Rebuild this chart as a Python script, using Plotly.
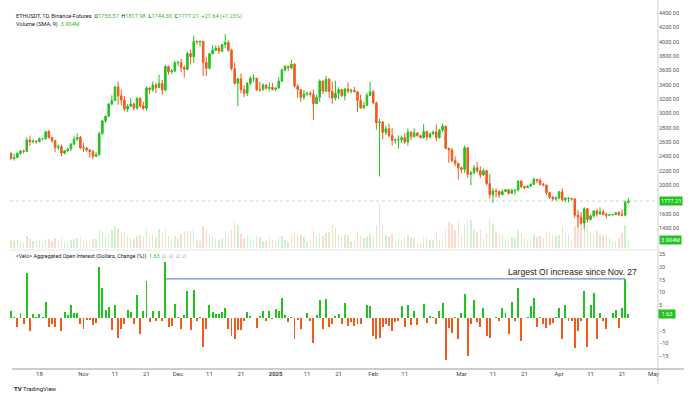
import pandas as pd
import plotly.graph_objects as go

# ---------------- data ----------------
dates = pd.date_range("2024-10-09", periods=197, freq="D")

opens = [2440,2370,2385,2440,2475,2470,2630,2605,2610,2605,
 2645,2645,2745,2665,2620,2525,2535,2445,2480,2505,
 2570,2640,2665,2520,2515,2490,2465,2400,2425,2720,
 2895,2960,3130,3180,3370,3245,3185,3060,3100,3130,
 3075,3210,3105,3070,3355,3330,3395,3360,3415,3325,
 3655,3580,3590,3705,3710,3640,3615,3835,3790,4000,
 3995,4005,3710,3630,3830,3880,3910,3870,3960,3990,
 3880,3625,3420,3480,3330,3280,3420,3490,3490,3330,
 3330,3395,3350,3360,3335,3355,3450,3605,3655,3635,
 3685,3380,3330,3225,3270,3280,3265,3135,3225,3450,
 3310,3475,3305,3215,3280,3330,3245,3340,3310,3320,
 3300,3180,3080,3110,3250,3300,3145,2870,2880,2735,
 2785,2690,2625,2630,2630,2660,2600,2740,2675,2725,
 2690,2660,2745,2670,2715,2740,2660,2765,2820,2510,
 2490,2340,2305,2240,2220,2520,2150,2170,2240,2200,
 2140,2200,2020,1865,1920,1910,1865,1910,1935,1885,
 1925,1930,2055,1980,1965,1985,2010,2080,2065,2010,
 2000,1895,1830,1805,1820,1905,1795,1815,1815,1805,
 1580,1555,1470,1670,1520,1570,1640,1595,1625,1590,
 1580,1585,1590,1615,1585,1580,1755.57]

highs = [2465,2440,2460,2490,2495,2665,2690,2640,2630,2665,
 2660,2755,2770,2665,2625,2565,2560,2490,2510,2585,
 2680,2720,2685,2585,2535,2495,2490,2465,2740,2910,
 2970,3140,3250,3380,3440,3330,3240,3125,3215,3150,
 3225,3225,3165,3380,3360,3445,3425,3540,3465,3680,
 3660,3620,3730,3735,3760,3670,3860,3890,4085,4020,
 4010,4010,3790,3840,3950,3950,3950,3970,4105,4020,
 3900,3710,3500,3555,3390,3435,3515,3545,3495,3440,
 3420,3400,3430,3425,3365,3505,3625,3675,3665,3745,
 3700,3410,3340,3325,3300,3310,3335,3260,3475,3455,
 3525,3495,3440,3455,3365,3345,3350,3430,3345,3370,
 3310,3260,3160,3285,3440,3330,3165,2925,2890,2830,
 2855,2795,2650,2695,2690,2720,2790,2745,2790,2735,
 2700,2850,2760,2730,2760,2845,2780,2855,2830,2525,
 2520,2400,2310,2260,2550,2525,2200,2280,2320,2260,
 2230,2215,2150,1960,1955,1925,1940,1945,1940,1950,
 1935,2065,2070,1990,2000,2025,2105,2085,2095,2035,
 2005,1900,1850,1845,1920,1955,1830,1835,1820,1815,
 1650,1620,1690,1670,1590,1650,1670,1690,1660,1615,
 1600,1595,1620,1635,1660,1785,1817.98]

lows = [2350,2340,2375,2425,2440,2465,2545,2580,2575,2595,
 2630,2635,2645,2590,2460,2490,2400,2430,2460,2470,
 2560,2615,2500,2460,2465,2380,2360,2390,2405,2700,
 2865,2955,3110,3170,3120,3110,3030,3020,3095,3040,
 3050,3080,3045,3035,3265,3300,3280,3360,3255,3310,
 3540,3545,3575,3660,3580,3500,3600,3680,3705,3960,
 3930,3520,3520,3610,3830,3870,3830,3850,3910,3860,
 3600,3400,3100,3280,3225,3240,3390,3435,3310,3300,
 3320,3330,3305,3320,3310,3345,3435,3585,3590,3610,
 3360,3215,3160,3190,3240,3230,2910,3130,3160,3270,
 3300,3220,3135,3180,3200,3230,3180,3280,3280,3300,
 3020,3060,3060,3110,3245,3130,2770,2120,2640,2700,
 2660,2550,2580,2510,2590,2570,2550,2625,2665,2675,
 2655,2650,2620,2650,2700,2610,2650,2740,2500,2310,
 2320,2260,2075,2170,2170,2100,1995,2150,2170,2095,
 2130,1995,1810,1755,1830,1820,1860,1905,1865,1880,
 1865,1910,1955,1940,1960,1975,2000,2025,1990,1985,
 1860,1810,1780,1780,1800,1775,1760,1760,1780,1540,
 1410,1450,1385,1475,1505,1545,1560,1590,1580,1535,
 1565,1575,1585,1570,1565,1570,1744.30]

closes = [2370,2385,2440,2475,2470,2630,2605,2610,2605,2645,
 2645,2745,2665,2620,2525,2535,2445,2480,2505,2570,
 2640,2665,2520,2515,2490,2465,2400,2425,2720,2895,
 2960,3130,3180,3370,3245,3185,3060,3100,3130,3075,
 3210,3105,3070,3355,3330,3395,3360,3415,3325,3655,
 3580,3590,3705,3710,3640,3615,3835,3790,4000,3995,
 4005,3710,3630,3830,3880,3910,3870,3960,3990,3880,
 3625,3420,3480,3330,3280,3420,3490,3490,3330,3330,
 3395,3350,3360,3335,3355,3450,3605,3655,3635,3685,
 3380,3330,3225,3270,3280,3265,3135,3225,3450,3310,
 3475,3305,3215,3280,3330,3245,3340,3310,3320,3300,
 3180,3080,3110,3250,3300,3145,2870,2880,2735,2785,
 2690,2625,2630,2630,2660,2600,2740,2675,2725,2690,
 2660,2745,2670,2715,2740,2660,2765,2820,2510,2490,
 2340,2305,2240,2220,2520,2150,2170,2240,2200,2140,
 2200,2020,1865,1920,1910,1865,1910,1935,1885,1925,
 1930,2055,1980,1965,1985,2010,2080,2065,2010,2000,
 1895,1830,1805,1820,1905,1795,1815,1815,1805,1580,
 1555,1470,1670,1520,1570,1640,1595,1625,1590,1580,
 1585,1590,1615,1585,1580,1755.57,1777.21]

volumes_m = [4.0,3.5,3.8,3.0,2.5,6.0,4.5,3.5,3.5,3.8,
 2.2,4.5,4.2,3.5,5.0,3.8,5.0,2.8,2.5,4.0,
 4.5,5.0,5.5,4.0,3.0,3.5,4.5,4.5,9.5,8.5,
 6.0,7.0,9.0,10.5,10.0,8.0,8.0,6.5,5.0,4.5,
 6.0,6.5,6.0,9.0,5.5,6.5,5.5,9.5,7.5,9.0,
 6.0,4.5,6.0,4.5,7.0,8.5,8.5,8.5,9.5,4.0,
 3.5,10.5,9.5,7.0,6.0,5.0,4.0,4.5,8.5,6.5,
 9.0,12.5,11.0,7.0,5.0,6.0,4.5,3.5,6.0,5.5,
 3.5,3.5,5.0,4.0,3.0,5.5,6.0,4.0,3.0,6.5,
 8.5,7.0,6.5,5.5,3.0,3.5,9.5,6.0,7.5,6.0,
 7.5,8.0,11.0,10.0,6.5,5.5,6.5,6.5,3.5,3.5,
 8.5,6.0,5.0,5.5,7.0,6.0,11.0,21.0,10.5,6.5,
 6.0,7.0,3.0,4.5,4.0,5.0,6.5,5.0,5.0,2.5,
 2.5,5.5,5.0,4.0,4.0,8.0,4.0,4.5,9.0,12.5,
 11.5,9.0,12.5,6.0,11.0,13.0,13.5,9.0,8.0,9.0,
 4.5,7.5,14.0,11.5,8.5,7.0,6.5,4.0,4.5,5.5,
 5.0,9.0,7.5,5.0,3.5,3.5,7.0,5.5,6.0,5.0,
 8.0,8.5,6.0,6.0,6.5,10.5,8.0,7.0,3.5,10.5,
 15.0,12.0,13.0,11.0,8.0,6.5,8.5,7.0,6.5,7.0,
 5.0,3.0,3.5,5.0,7.5,11.0,3.904]

oi_change_pct = [2.6,0.5,-3.4,2.0,-2.3,17.5,-5.3,1.6,0.2,1.6,
 0.5,6.1,-3.4,-2.3,-3.4,-0.2,-5.3,2.5,1.3,5.1,
 2.0,1.8,-2.3,-4.3,-1.0,-1.0,-2.7,-2.1,20.1,11.7,
 3.2,4.2,-4.7,5.1,-7.8,-4.3,-2.3,3.1,2.2,-2.3,
 9.1,-6.2,2.6,14.5,-1.7,2.6,-1.3,2.9,-1.3,21.7,
 -3.6,-3.0,5.5,0.3,-4.3,1.2,10.4,-4.7,11.0,-1.3,
 0.3,-11.4,-4.3,5.1,2.5,1.6,1.6,2.3,4.0,-4.2,
 -7.1,-8.4,-4.8,-4.8,-1.3,2.3,0.6,0.1,-3.8,0.8,
 2.7,-1.3,2.7,-0.6,3.4,2.7,7.8,1.0,-1.6,0.4,
 -8.1,-0.9,-4.4,0.1,1.9,-1.2,-9.7,1.0,7.1,-4.5,
 7.5,-3.5,-2.2,0.6,1.4,-2.2,5.8,-3.2,-1.6,-3.2,
 -2.2,-2.2,0.1,5.2,4.5,-7.1,-8.4,-7.8,-3.5,-2.5,
 -3.2,-5.2,-1.6,-1.2,4.5,-3.5,5.2,-2.9,2.6,-2.9,
 -0.2,5.6,-1.9,0.6,0.5,-2.5,2.7,6.0,-16.5,-3.8,
 -6.0,0.5,-8.1,2.1,9.5,-14.8,-2.5,7.0,-1.6,-3.5,
 4.0,-7.0,-7.7,0.1,0.4,-1.2,3.8,2.1,-6.4,6.4,
 -1.4,11.6,-9.0,-0.2,0.2,4.7,7.9,-3.5,0.4,-2.5,
 -4.0,-2.9,-2.1,0.4,4.0,-8.3,4.9,-1.2,-1.4,-11.8,
 -5.1,-1.4,10.5,-11.3,4.9,9.7,-8.3,2.1,-1.2,-4.4,
 0.1,2.1,3.1,-3.8,4.0,15.3,1.63]

level_dates = ["2024-11-27", "2025-04-22"]
level_value = [15.3, 15.3]

# tick labels (those hidden behind the value boxes are left out)
price_ticks = [1400, 1600, 2000, 2200, 2400, 2600, 2800, 3000, 3200,
               3400, 3600, 3800, 4000, 4200, 4400]
oi_ticks = [-15, -10, -5, 5, 10, 15, 20, 25]
x_tick_dates = ["2024-10-18", "2024-11-01", "2024-11-11", "2024-11-21", "2024-12-01",
                "2024-12-11", "2024-12-21", "2025-01-01", "2025-01-11", "2025-01-21",
                "2025-02-01", "2025-02-11", "2025-03-01", "2025-03-11", "2025-03-21",
                "2025-04-01", "2025-04-11", "2025-04-21", "2025-05-01"]
x_tick_text = ["18", "Nov", "11", "21", "Dec", "11", "21", "<b>2025</b>", "11", "21",
               "Feb", "11", "Mar", "11", "21", "Apr", "11", "21", "May"]

# ---------------- styling ----------------
UP = "#22c21f"
DN = "#f25a1c"
UP_V = "rgba(34,194,31,0.22)"
DN_V = "rgba(242,90,28,0.22)"
TXT = "#131722"
AX = "#555555"
FONT = "Roboto"

x_range = ["2024-10-08 16:00", "2025-05-02 10:00"]

vol_colors = [UP_V if c >= o else DN_V for o, c in zip(opens, closes)]
oi_colors = [UP if v >= 0 else DN for v in oi_change_pct]

fig = go.Figure()

fig.add_trace(go.Bar(x=dates, y=volumes_m, marker=dict(color=vol_colors, line_width=0),
                     width=0.45 * 86400000, xaxis="x", yaxis="y3", showlegend=False))

fig.add_trace(go.Candlestick(
    x=dates, open=opens, high=highs, low=lows, close=closes,
    increasing=dict(line=dict(color=UP, width=1), fillcolor=UP),
    decreasing=dict(line=dict(color=DN, width=1), fillcolor=DN),
    whiskerwidth=0, xaxis="x", yaxis="y", showlegend=False))

fig.add_trace(go.Bar(x=dates, y=oi_change_pct, marker=dict(color=oi_colors, line_width=0),
                     width=0.62 * 86400000, xaxis="x2", yaxis="y2", showlegend=False))

fig.add_trace(go.Scatter(x=level_dates, y=level_value, mode="lines",
                         line=dict(color="#7189e8", width=1.2),
                         xaxis="x2", yaxis="y2", showlegend=False))

PH = 369.0  # plot height in px


def py(px):
    return 1 - px / PH


fig.update_layout(
    width=693, height=394,
    margin=dict(l=10, r=35, t=0, b=25),
    paper_bgcolor="white", plot_bgcolor="white",
    font=dict(family=FONT, color=AX, size=6),
    bargap=0,
    hovermode=False,
    xaxis=dict(domain=[0, 1], anchor="y", range=x_range, type="date",
               showticklabels=False, showgrid=False, zeroline=False,
               rangeslider=dict(visible=False), fixedrange=True),
    xaxis2=dict(domain=[0, 1], anchor="y2", range=x_range, type="date",
                tickmode="array", tickvals=x_tick_dates, ticktext=x_tick_text,
                tickfont=dict(size=6, color="#444444", family=FONT),
                showgrid=False, zeroline=False, ticks="", showline=False),
    yaxis=dict(domain=[py(248), 1], side="right", range=[1122, 4581],
               tickmode="array", tickvals=price_ticks,
               ticktext=[f"{v:.2f}" for v in price_ticks],
               tickfont=dict(size=5.5, color=AX, family=FONT),
               showgrid=False, zeroline=False, ticks="", showline=False),
    yaxis3=dict(overlaying="y", range=[0, 121], visible=False),
    yaxis2=dict(domain=[0, py(252)], side="right", range=[-20.0, 25.8],
                tickmode="array", tickvals=oi_ticks,
                ticktext=[str(v).replace("-", "\u2212") for v in oi_ticks],
                tickfont=dict(size=5.5, color=AX, family=FONT),
                showgrid=False, zeroline=False, ticks="", showline=False),
)

shapes = [
    # right axis border
    dict(type="line", xref="paper", yref="paper", x0=1, x1=1, y0=py(384), y1=1,
         line=dict(color="#cfcfcf", width=1)),
    # bottom time axis line
    dict(type="line", xref="paper", yref="paper", x0=0.003, x1=1.04, y0=0, y1=0,
         line=dict(color="#9a9a9a", width=1)),
    # pane separator
    dict(type="line", xref="paper", yref="paper", x0=0, x1=1, y0=py(250), y1=py(250),
         line=dict(color="#e6e6e6", width=1)),
    # last price line
    dict(type="line", xref="paper", yref="y", x0=0, x1=1, y0=closes[-1], y1=closes[-1],
         line=dict(color="rgba(34,194,31,0.35)", width=1, dash="dot")),
]
fig.update_layout(shapes=shapes)

g = lambda s: f"<span style='color:{UP}'>{s}</span>"
header1 = ("ETHUSDT, 1D, Binance-Futures  O" + g("1755.57") + "  H" + g("1817.98") +
           "  L" + g("1744.30") + "  C" + g("1777.21") + "  " + g("+21.64 (+1.23%)"))
header2 = "Volume (SMA, 9)  " + g("3.904M")
oi_legend = ("&lt;Velo&gt; Aggregated Open Interest (Dollars, Change (%))  " + g("1.63") +
             "  <span style='color:#999'>∅  ∅  ∅  ∅</span>")

ann = [
    dict(text=header1, x=0.006, y=py(16), xref="paper", yref="paper", xanchor="left",
         yanchor="middle", showarrow=False, font=dict(size=5.6, color=TXT, family=FONT)),
    dict(text=header2, x=0.006, y=py(24), xref="paper", yref="paper", xanchor="left",
         yanchor="middle", showarrow=False, font=dict(size=5.6, color=TXT, family=FONT)),
    dict(text=oi_legend, x=0.006, y=py(256.5), xref="paper", yref="paper", xanchor="left",
         yanchor="middle", showarrow=False, font=dict(size=5.4, color=TXT, family=FONT)),
    dict(text="Largest OI increase since Nov. 27", x=1 - (658 - 572) / 648, y=py(272),
         xref="paper", yref="paper", xanchor="center", yanchor="middle", showarrow=False,
         font=dict(size=8.6, color="#222222", family="Liberation Sans")),
    dict(text="<b>TV</b> TradingView", x=0.003, y=py(388), xref="paper", yref="paper",
         xanchor="left", yanchor="middle", showarrow=False,
         font=dict(size=6, color=TXT, family=FONT)),
    # right-side value labels
    dict(text="1777.21", x=1, y=closes[-1], xref="paper", yref="y", xanchor="left",
         yanchor="middle", showarrow=False, bgcolor=UP, borderpad=1, xshift=1,
         font=dict(size=5.6, color="white", family=FONT)),
    dict(text="3.904M", x=1, y=volumes_m[-1], xref="paper", yref="y3", xanchor="left",
         yanchor="middle", showarrow=False, bgcolor=UP, borderpad=1, xshift=1,
         font=dict(size=5.6, color="white", family=FONT)),
    dict(text=" 1.63 ", x=1, y=oi_change_pct[-1], xref="paper", yref="y2", xanchor="left",
         yanchor="middle", showarrow=False, bgcolor=UP, borderpad=1, xshift=0,
         font=dict(size=5.6, color="white", family=FONT)),
]
fig.update_layout(annotations=ann)

fig.write_html("out.html", config={"displayModeBar": False, "staticPlot": True},
               post_script="document.body.style.margin='0';document.body.style.overflow='hidden';")
